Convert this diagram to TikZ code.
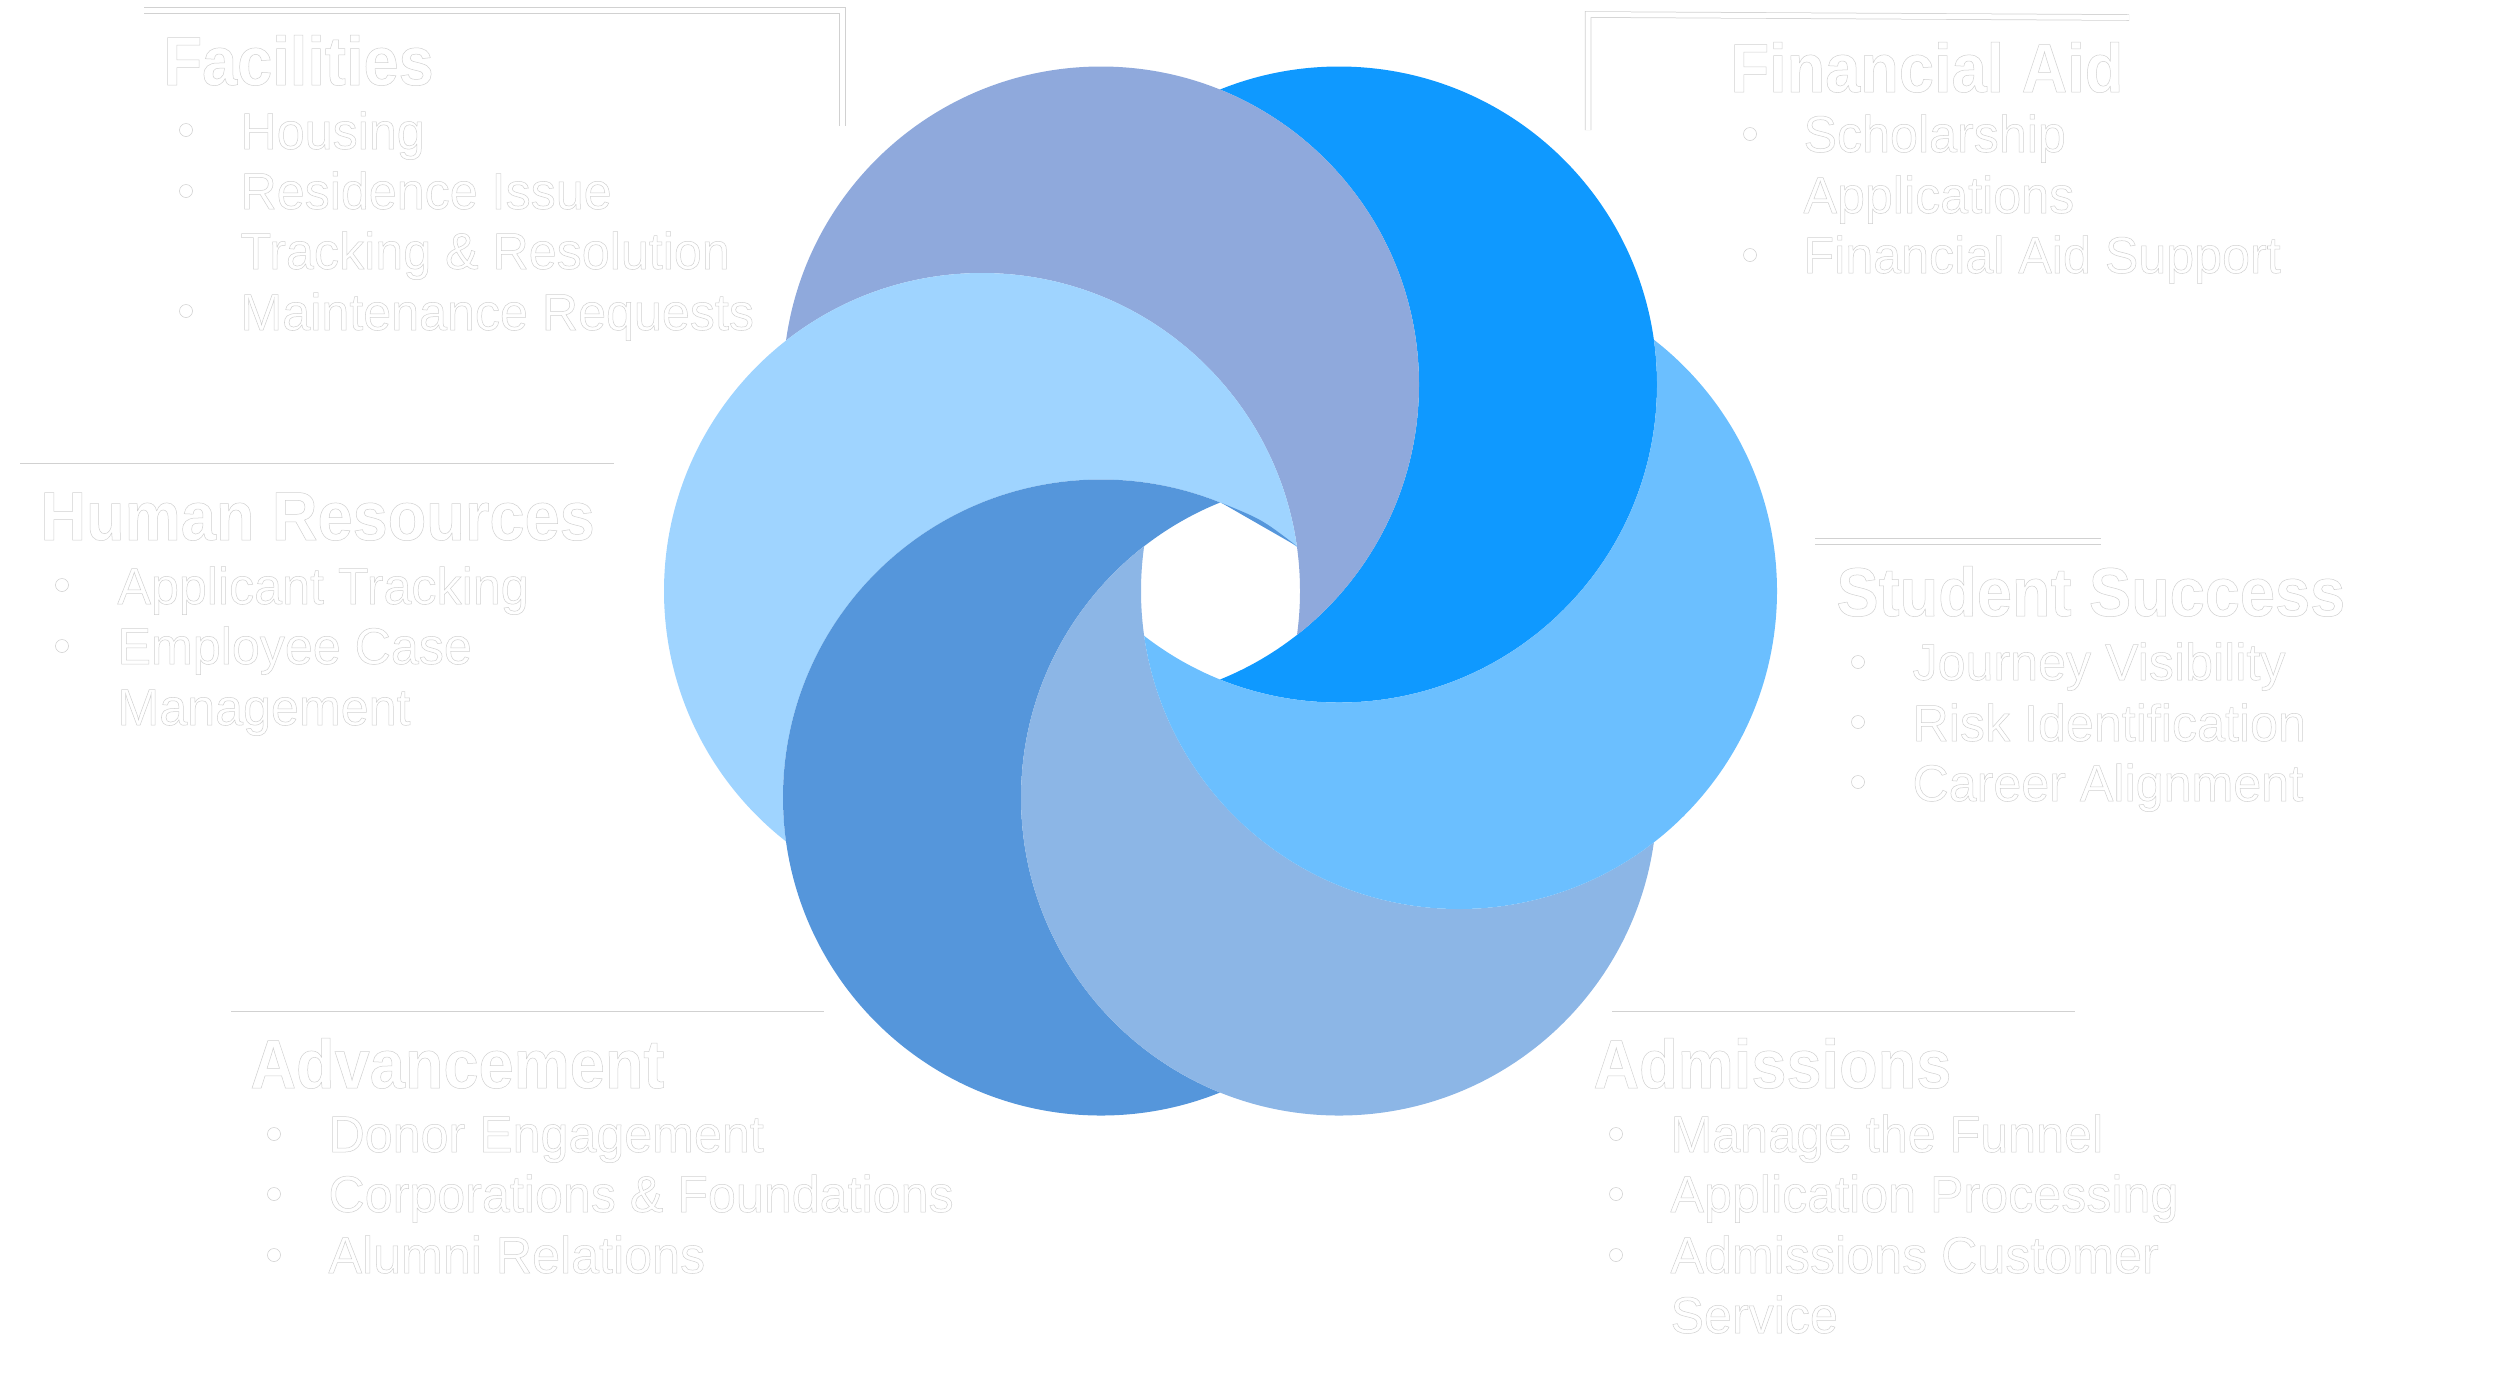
\documentclass[tikz,border=0pt]{standalone}
\usepackage{fontspec}
\setmainfont{Liberation Sans}
\newfontfamily\headf[FakeStretch=0.915]{Liberation Sans}
\newfontfamily\itemf[FakeStretch=0.975]{Liberation Sans}
\newcommand{\outl}[1]{\special{pdf:code q 2 Tr 0.2 w 0.82 G 1 g}#1\special{pdf:code Q}}
\tikzset{
 x=0.4pt,y=-0.4pt,
 head/.style={anchor=base west,inner sep=0pt,font=\headf\bfseries\fontsize{27.6}{30}\selectfont},
 item/.style={anchor=base west,inner sep=0pt,font=\itemf\fontsize{20.6}{24}\selectfont},
 bullet/.style={anchor=center,circle,inner sep=0pt,minimum size=5.2pt,draw=black!20,line width=.2pt,fill=white},
 ruleo/.style={draw=black!18,line width=2.6pt,line cap=butt},
 rulei/.style={draw=white,line width=2pt,line cap=butt,yshift=-.15pt},
}
\definecolor{cDark}{HTML}{0F99FF}
\definecolor{cPeri}{HTML}{8FA9DC}
\definecolor{cLight}{HTML}{9FD4FF}
\definecolor{cMid}{HTML}{5596DB}
\definecolor{cPale}{HTML}{8CB6E6}
\definecolor{cRight}{HTML}{6BBFFF}
\def\R{318}
\newcommand{\cresc}[3]{% colour, own centre, next centre
 \begin{scope}[even odd rule]
  \clip #3 circle[radius=\R] (-100,-100) rectangle (2600,1500);
  \fill[#1] #2 circle[radius=\R];
 \end{scope}}
\begin{document}
\begin{tikzpicture}
\useasboundingbox (0,0) rectangle (2500,1376);
\coordinate (cA) at (1339,384.5);
\coordinate (cB) at (1101,384.5);
\coordinate (cC) at (982,591);
\coordinate (cD) at (1101,797.5);
\coordinate (cE) at (1339,797.5);
\coordinate (cF) at (1459,591);
\cresc{cDark}{(cA)}{(cB)}
\cresc{cPeri}{(cB)}{(cC)}
\cresc{cLight}{(cC)}{(cD)}
\cresc{cMid}{(cD)}{(cE)}
\cresc{cPale}{(cE)}{(cF)}
\cresc{cRight}{(cF)}{(cA)}
\coordinate (sl1) at (1221.7,503);\coordinate (sl2) at (1296.7,546);
\fill[cMid] (sl1) .. controls (1262,519.5) .. (sl2) -- cycle;
% rules
\coordinate (f1) at (144,10.5);\coordinate (f2) at (842.5,10.5);\coordinate (f3) at (842.5,126);
\draw[ruleo] (f1)--(f2)--(f3);\draw[rulei] (f1)--(f2)--(f3);
\coordinate (a1) at (2129,17.5);\coordinate (a2) at (1588,14.5);\coordinate (a3) at (1588,130);
\draw[ruleo] (a1)--(a2)--(a3);\draw[rulei] (a1)--(a2)--(a3);
\coordinate (h1) at (20,466);\coordinate (h2) at (614,466);
\draw[ruleo] (h1)--(h2);\draw[rulei] (h1)--(h2);
\coordinate (s1) at (1815,541.5);\coordinate (s2) at (2101,541.5);
\draw[ruleo] (s1)--(s2);\draw[rulei] (s1)--(s2);
\coordinate (m1) at (1612,1014);\coordinate (m2) at (2074.5,1014);
\draw[ruleo] (m1)--(m2);\draw[rulei] (m1)--(m2);
\coordinate (v1) at (231,1014);\coordinate (v2) at (824,1014);
\draw[ruleo] (v1)--(v2);\draw[rulei] (v1)--(v2);
% Facilities
\node[head] (nFac) at (163,85) {\outl{Facilities}};
\node[bullet] (dF1) at (186,130) {};\node[item] (tF1) at (240,149) {\outl{Housing}};
\node[bullet] (dF2) at (186,191) {};\node[item] (tF2) at (240,209) {\outl{Residence Issue}};
\node[item] (tF3) at (240,269) {\outl{Tracking \& Resolution}};
\node[bullet] (dF4) at (186,311) {};\node[item] (tF4) at (240,330) {\outl{Maintenance Requests}};
% Financial Aid
\node[head] (nAid) at (1730,92) {\outl{Financial Aid}};
\node[bullet] (dA1) at (1750,134) {};\node[item] (tA1) at (1803,152) {\outl{Scholarship}};
\node[item] (tA2) at (1803,213) {\outl{Applications}};
\node[bullet] (dA3) at (1750,255) {};\node[item] (tA3) at (1803,273) {\outl{Financial Aid Support}};
% Human Resources
\node[head] (nHR) at (40,540) {\outl{Human Resources}};
\node[bullet] (dH1) at (62,585) {};\node[item] (tH1) at (117,604) {\outl{Applicant Tracking}};
\node[bullet] (dH2) at (62,646) {};\node[item] (tH2) at (117,664) {\outl{Employee Case}};
\node[item] (tH3) at (117,725) {\outl{Management}};
% Student Success
\node[head] (nSS) at (1836,616) {\outl{Student Success}};
\node[bullet] (dS1) at (1858,662) {};\node[item] (tS1) at (1912,680) {\outl{Journey Visibility}};
\node[bullet] (dS2) at (1858,722) {};\node[item] (tS2) at (1912,741) {\outl{Risk Identification}};
\node[bullet] (dS3) at (1858,782) {};\node[item] (tS3) at (1912,801) {\outl{Career Alignment}};
% Advancement
\node[head] (nAdv) at (250,1088) {\outl{Advancement}};
\node[bullet] (dV1) at (274,1134) {};\node[item] (tV1) at (328,1152) {\outl{Donor Engagement}};
\node[bullet] (dV2) at (274,1194) {};\node[item] (tV2) at (328,1212) {\outl{Corporations \& Foundations}};
\node[bullet] (dV3) at (274,1255) {};\node[item] (tV3) at (328,1273) {\outl{Alumni Relations}};
% Admissions
\node[head] (nAdm) at (1593,1088) {\outl{Admissions}};
\node[bullet] (dM1) at (1616,1134) {};\node[item] (tM1) at (1670,1152) {\outl{Manage the Funnel}};
\node[bullet] (dM2) at (1616,1194) {};\node[item] (tM2) at (1670,1212) {\outl{Application Processing}};
\node[bullet] (dM3) at (1616,1255) {};\node[item] (tM3) at (1670,1273) {\outl{Admissions Customer}};
\node[item] (tM4) at (1670,1333) {\outl{Service}};
\end{tikzpicture}
\end{document}
